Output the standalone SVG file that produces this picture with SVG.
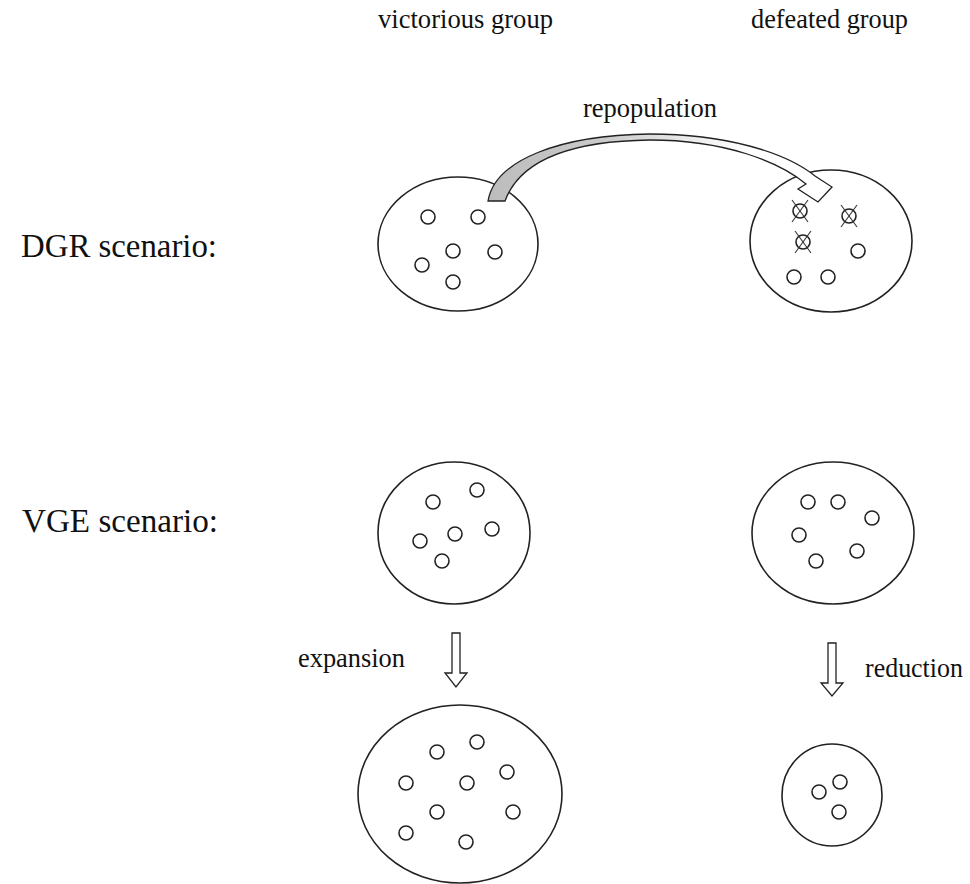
<svg xmlns="http://www.w3.org/2000/svg" width="970" height="884" viewBox="0 0 970 884">
<defs>
<style>
.t{font-family:"Liberation Serif","Times New Roman",serif;font-size:28px;fill:#111}
.big{font-size:33px}
.e{fill:none;stroke:#222;stroke-width:1.6}
.c{fill:#fff;stroke:#222;stroke-width:1.6}
.x{stroke:#333;stroke-width:1.1}
.ar{fill:#fff;stroke:#222;stroke-width:1.3;stroke-linejoin:miter}
</style>
<linearGradient id="g" gradientUnits="userSpaceOnUse" x1="487" y1="0" x2="835" y2="0">
<stop offset="0" stop-color="#bcbcbc"/>
<stop offset="0.35" stop-color="#cbcbcb"/>
<stop offset="0.6" stop-color="#eeeeee"/>
<stop offset="0.75" stop-color="#ffffff"/>
</linearGradient>
<circle id="dot" r="7" class="c"/>
<g id="xdot"><circle r="7" class="c"/><line class="x" x1="-8" y1="-11" x2="8" y2="11"/><line class="x" x1="8" y1="-11" x2="-8" y2="11"/></g>
</defs>
<rect width="970" height="884" fill="#fff"/>

<g id="labels" font-family="Liberation Serif, Times New Roman, serif">
<text class="t" x="378" y="28" textLength="175" lengthAdjust="spacingAndGlyphs">victorious group</text>
<text class="t" x="751" y="28" textLength="157" lengthAdjust="spacingAndGlyphs">defeated group</text>
<text class="t big" x="21" y="257" textLength="196" lengthAdjust="spacingAndGlyphs">DGR scenario:</text>
<text class="t big" x="22" y="532" textLength="196" lengthAdjust="spacingAndGlyphs">VGE scenario:</text>
</g>

<g id="dgr-victorious">
<ellipse class="e" cx="458" cy="244" rx="80" ry="67"/>
<use href="#dot" x="428" y="217"/>
<use href="#dot" x="478" y="217"/>
<use href="#dot" x="453" y="251"/>
<use href="#dot" x="495" y="252"/>
<use href="#dot" x="422" y="265"/>
<use href="#dot" x="453" y="282"/>
</g>

<g id="dgr-defeated">
<ellipse class="e" cx="831" cy="241" rx="81" ry="71"/>
<use href="#xdot" x="800" y="211"/>
<use href="#xdot" x="849" y="216"/>
<use href="#xdot" x="803" y="242"/>
<use href="#dot" x="858" y="251"/>
<use href="#dot" x="794" y="277"/>
<use href="#dot" x="828" y="277"/>
</g>

<g id="vge-victorious">
<ellipse class="e" cx="454" cy="533" rx="76" ry="71"/>
<use href="#dot" x="433" y="502"/>
<use href="#dot" x="477" y="490"/>
<use href="#dot" x="455" y="534"/>
<use href="#dot" x="492" y="529"/>
<use href="#dot" x="420" y="541"/>
<use href="#dot" x="442" y="561"/>
</g>

<g id="vge-defeated">
<ellipse class="e" cx="833" cy="533" rx="81" ry="71"/>
<use href="#dot" x="808" y="502"/>
<use href="#dot" x="838" y="502"/>
<use href="#dot" x="872" y="518"/>
<use href="#dot" x="799" y="535"/>
<use href="#dot" x="857" y="551"/>
<use href="#dot" x="816" y="561"/>
</g>

<g id="vge-expanded">
<ellipse class="e" cx="460" cy="794" rx="102" ry="89"/>
<use href="#dot" x="437" y="752"/>
<use href="#dot" x="477" y="742"/>
<use href="#dot" x="507" y="772"/>
<use href="#dot" x="406" y="783"/>
<use href="#dot" x="467" y="783"/>
<use href="#dot" x="437" y="812"/>
<use href="#dot" x="513" y="812"/>
<use href="#dot" x="406" y="833"/>
<use href="#dot" x="466" y="842"/>
</g>

<g id="vge-reduced">
<ellipse class="e" cx="832" cy="795" rx="50" ry="51"/>
<use href="#dot" x="840" y="782"/>
<use href="#dot" x="819" y="792"/>
<use href="#dot" x="839" y="812"/>
</g>

<g id="connectors" font-family="Liberation Serif, Times New Roman, serif">
<path d="M488,201 C495,160 560,135 650,134 C725,134 785,152 815,176 L832,187 L818,202 L798,189 L806,184 C780,162 725,140 650,140 C570,141 520,160 505,201 Z" fill="url(#g)" stroke="#222" stroke-width="1.3" stroke-linejoin="miter"/>
<text class="t" x="583" y="117" textLength="134" lengthAdjust="spacingAndGlyphs">repopulation</text>
<path class="ar" d="M452,633 H460 V673 H467 L456,687 L445,673 H452 Z"/>
<text class="t" x="298" y="667" textLength="107" lengthAdjust="spacingAndGlyphs">expansion</text>
<path class="ar" d="M828,643 H836 V683 H843 L832,696 L821,683 H828 Z"/>
<text class="t" x="865" y="677" textLength="98" lengthAdjust="spacingAndGlyphs">reduction</text>
</g>
</svg>
